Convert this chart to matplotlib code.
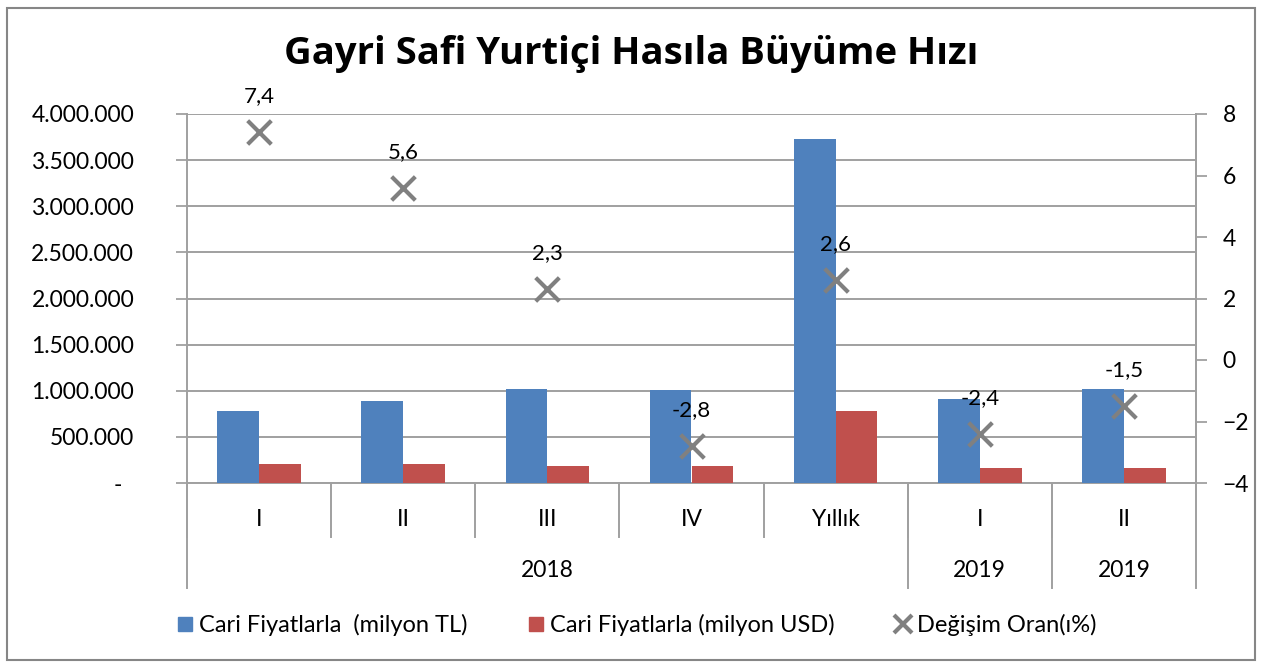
import numpy as np
import matplotlib
matplotlib.use("Agg")
import matplotlib.pyplot as plt
from matplotlib.ticker import FuncFormatter
from matplotlib.patches import Rectangle
from matplotlib.lines import Line2D

plt.rcParams['font.family'] = ['Lato', 'DejaVu Sans']

# veriler
ceyrekler = ["I", "II", "III", "IV", "Yıllık", "I", "II"]
yillar = ["2018", "2019", "2019"]
yil_araliklari = [(0, 5), (5, 6), (6, 7)]
tl = [785000, 890000, 1020000, 1012000, 3728000, 912000, 1018000]
usd = [205000, 205000, 188000, 180000, 780000, 165000, 165000]
degisim = [7.4, 5.6, 2.3, -2.8, 2.6, -2.4, -1.5]
degisim_etiket = ["7,4", "5,6", "2,3", "-2,8", "2,6", "-2,4", "-1,5"]

mavi = "#4F81BD"
kirmizi = "#C0504D"
gri = "#808080"
cizgi = "#A0A0A0"
fs = 16.5

fig = plt.figure(figsize=(12.62, 6.68), dpi=100)
ax = fig.add_axes([187/1262, 1-483/668, (1196-187)/1262, (483-114)/668])

x = np.arange(len(ceyrekler))
w = 0.29
ax.bar(x - w/2, tl, w, color=mavi, zorder=3)
ax.bar(x + w/2, usd, w, color=kirmizi, zorder=3)

ax.set_xlim(-0.5, len(ceyrekler) - 0.5)
ax.set_ylim(0, 4000000)
ax.set_yticks(np.arange(0, 4000001, 500000))

def binlik(v, pos):
    if v == 0:
        return "-  "
    return "{:,.0f}".format(v).replace(",", ".")

ax.yaxis.set_major_formatter(FuncFormatter(binlik))
ax.grid(axis="y", color=cizgi, linewidth=1.4, zorder=0)
ax.set_xticks([])
ax.tick_params(axis="y", length=8, width=1.3, color=cizgi, pad=30, labelsize=fs)
ax.spines["top"].set_visible(False)
for s in ["left", "right", "bottom"]:
    ax.spines[s].set_color(cizgi)
    ax.spines[s].set_linewidth(1.4)

ax2 = ax.twinx()
ax2.set_ylim(-4, 8)
ax2.set_yticks(np.arange(-4, 9, 2))
ax2.tick_params(axis="y", length=8, width=1.3, color=cizgi, pad=11, labelsize=fs)
for s in ["top", "left", "bottom"]:
    ax2.spines[s].set_visible(False)
ax2.spines["right"].set_color(cizgi)
ax2.spines["right"].set_linewidth(1.4)
ax2.scatter(x, degisim, marker="x", s=290, linewidths=3, color=gri, zorder=5)
for xi, yi, et in zip(x, degisim, degisim_etiket):
    ax2.annotate(et, (xi, yi), xytext=(0, 26), textcoords="offset points",
                 ha="center", va="center", fontsize=16)

# kategori ekseni ayraçları ve etiketleri
tr = ax.get_xaxis_transform()
for i in range(len(ceyrekler)):
    ax.plot([i - 0.5, i - 0.5], [0, -0.145], color=cizgi, lw=1.4, transform=tr, clip_on=False)
    ax.text(i, -0.10, ceyrekler[i], transform=tr, ha="center", va="center", fontsize=fs)
for (a, b), yil in zip(yil_araliklari, yillar):
    ax.plot([a - 0.5, a - 0.5], [0, -0.285], color=cizgi, lw=1.4, transform=tr, clip_on=False)
    ax.text((a + b - 1) / 2, -0.238, yil, transform=tr, ha="center", va="center", fontsize=fs)
ax.plot([len(ceyrekler) - 0.5] * 2, [0, -0.285], color=cizgi, lw=1.4, transform=tr, clip_on=False)

fig.suptitle("Gayri Safi Yurtiçi Hasıla Büyüme Hızı", x=0.5, y=1-54/668, va="center",
             fontsize=27.5, fontweight="bold", family=["Open Sans", "DejaVu Sans"])

tutamaclar = [
    Line2D([], [], marker="s", linestyle="none", color=mavi, markersize=10),
    Line2D([], [], marker="s", linestyle="none", color=kirmizi, markersize=10),
    Line2D([], [], marker="x", linestyle="none", color=gri, markersize=13, markeredgewidth=3),
]
fig.legend(tutamaclar, ["Cari Fiyatlarla  (milyon TL)", "Cari Fiyatlarla (milyon USD)", "Değişim Oran(ı%)"],
           loc="center", bbox_to_anchor=(0.505, 1-625/668), ncol=3, frameon=False,
           fontsize=17, handlelength=0.6, handletextpad=0.3, columnspacing=2.6)

fig.patches.append(Rectangle((7/1262, 8/668), 1248/1262, 652/668, transform=fig.transFigure,
                             fill=False, edgecolor="#868686", linewidth=1.5))

fig.savefig("out.png", dpi=100)
